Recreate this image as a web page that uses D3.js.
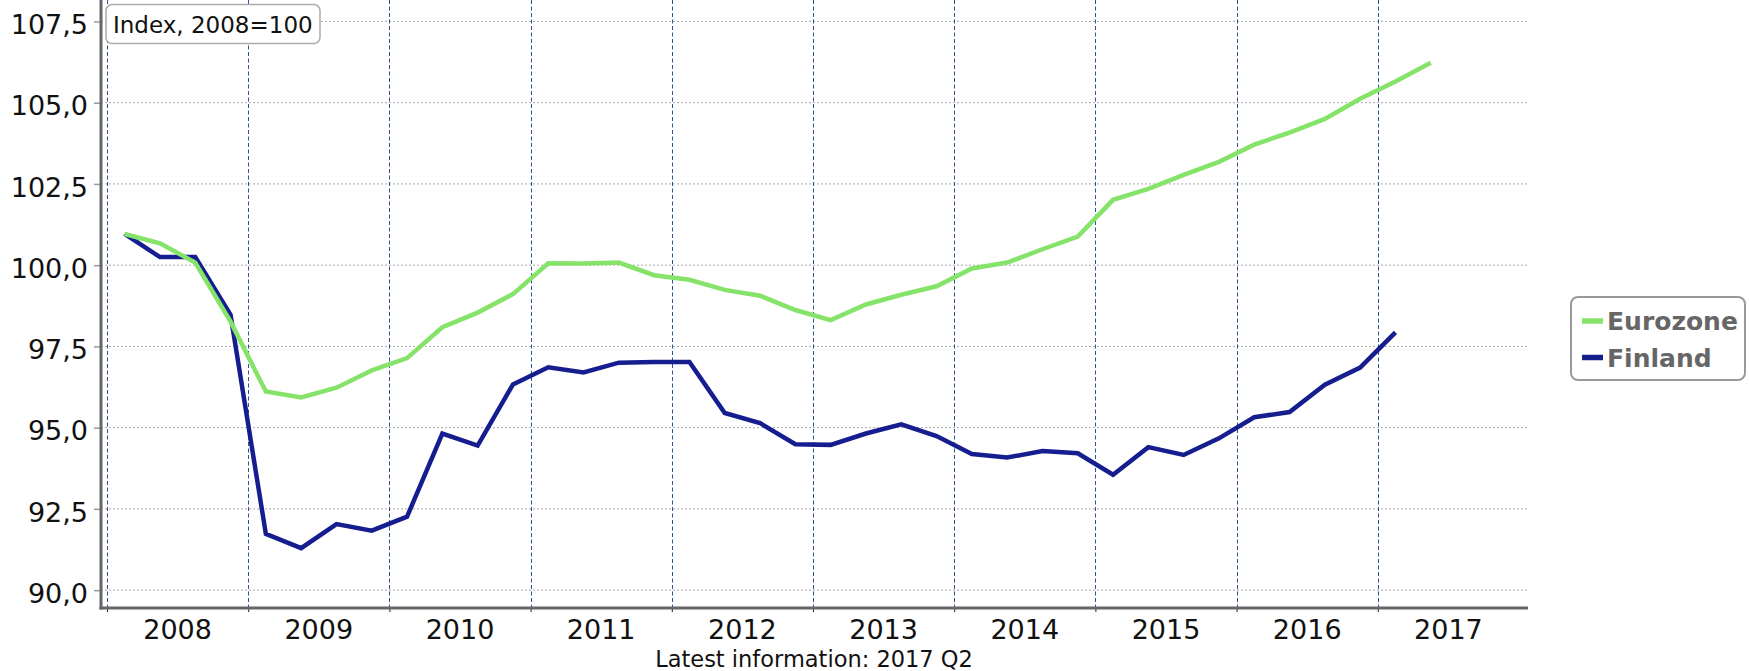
<!DOCTYPE html>
<html>
<head>
<meta charset="utf-8">
<script src="https://cdn.jsdelivr.net/npm/d3@7"></script>
<style>
  html, body { margin: 0; padding: 0; background: #fff; }
  svg { display: block; font-family: "DejaVu Sans", Verdana, sans-serif; }
</style>
</head>
<body>
<svg id="chart" width="1749" height="671"></svg>
<script>
// ---- data ----
const quarters = [
  "2008Q1","2008Q2","2008Q3","2008Q4",
  "2009Q1","2009Q2","2009Q3","2009Q4",
  "2010Q1","2010Q2","2010Q3","2010Q4",
  "2011Q1","2011Q2","2011Q3","2011Q4",
  "2012Q1","2012Q2","2012Q3","2012Q4",
  "2013Q1","2013Q2","2013Q3","2013Q4",
  "2014Q1","2014Q2","2014Q3","2014Q4",
  "2015Q1","2015Q2","2015Q3","2015Q4",
  "2016Q1","2016Q2","2016Q3","2016Q4",
  "2017Q1","2017Q2"
];
const eurozone = [
  100.96, 100.67, 100.08, 98.26,
  96.11, 95.93, 96.23, 96.76,
  97.14, 98.09, 98.54, 99.11,
  100.06, 100.05, 100.08, 99.69,
  99.55, 99.24, 99.06, 98.62,
  98.31, 98.79, 99.09, 99.35,
  99.90, 100.08, 100.49, 100.88,
  102.01, 102.35, 102.78, 103.18,
  103.71, 104.08, 104.50, 105.12,
  105.65, 106.23
];
const finland = [
  100.96, 100.25, 100.25, 98.47,
  91.73, 91.29, 92.03, 91.83,
  92.26, 94.82, 94.45, 96.33,
  96.86, 96.70, 97.00, 97.02,
  97.02, 95.45, 95.14, 94.49,
  94.47, 94.82, 95.10, 94.74,
  94.19, 94.08, 94.28, 94.21,
  93.55, 94.40, 94.16, 94.67,
  95.32, 95.48, 96.32, 96.85,
  97.93
];
const yearLabels = ["2008","2009","2010","2011","2012","2013","2014","2015","2016","2017"];
const yTicks = [90, 92.5, 95, 97.5, 100, 102.5, 105, 107.5];
const seriesNames = ["Eurozone", "Finland"];
const seriesColors = ["#86e36a", "#161e8f"];
const unitNote = "Index, 2008=100";
const footNote = "Latest information: 2017 Q2";

// ---- layout ----
const svg = d3.select("#chart");
const plot = { left: 101, right: 1528, top: 0, bottom: 608 };

const toT = q => +q.slice(0, 4) + (+q.slice(5) - 0.5) / 4;

const x = d3.scaleLinear()
  .domain([2007.9575, 2018.0637])
  .range([plot.left, plot.right]);
const y = d3.scaleLinear()
  .domain([89.45, 108.16])
  .range([plot.bottom, plot.top]);

const fmt = v => d3.format(".1f")(v).replace(".", ",");

// horizontal dotted gridlines
svg.append("g")
  .selectAll("line")
  .data(yTicks)
  .join("line")
  .attr("x1", plot.left).attr("x2", plot.right)
  .attr("y1", d => y(d)).attr("y2", d => y(d))
  .attr("stroke", "#a8a8a8")
  .attr("stroke-width", 1)
  .attr("stroke-dasharray", "2,2");

// vertical dashed year separators
const yearStarts = yearLabels.map(d => +d);
svg.append("g")
  .selectAll("line")
  .data(yearStarts)
  .join("line")
  .attr("x1", d => Math.round(x(d)) + 0.5).attr("x2", d => Math.round(x(d)) + 0.5)
  .attr("y1", plot.top).attr("y2", plot.bottom)
  .attr("stroke", "#2b5591")
  .attr("stroke-width", 1)
  .attr("stroke-dasharray", "4,2.5");

// y axis
const yAxis = d3.axisLeft(y).tickValues(yTicks).tickFormat(fmt).tickSize(7).tickPadding(6);
const gy = svg.append("g").attr("transform", `translate(${plot.left},0)`).call(yAxis);
gy.select(".domain").remove();
gy.selectAll(".tick line").attr("stroke", "#999").attr("stroke-width", 1.5);
gy.selectAll(".tick text")
  .attr("font-family", "DejaVu Sans, Verdana, sans-serif")
  .attr("font-size", 27)
  .attr("fill", "#111")
  .attr("dy", "0.45em");
svg.append("line")
  .attr("x1", plot.left).attr("x2", plot.left)
  .attr("y1", plot.top).attr("y2", plot.bottom + 1.5)
  .attr("stroke", "#666").attr("stroke-width", 3);

// x axis: ticks at year starts, labels at year middles
const gx = svg.append("g").attr("transform", `translate(0,${plot.bottom})`)
  .call(d3.axisBottom(x).tickValues(yearStarts).tickSize(4).tickFormat(""));
gx.select(".domain").remove();
gx.selectAll(".tick line").attr("stroke", "#222").attr("stroke-width", 1);
svg.append("line")
  .attr("x1", plot.left - 1.5).attr("x2", plot.right)
  .attr("y1", plot.bottom).attr("y2", plot.bottom)
  .attr("stroke", "#666").attr("stroke-width", 3);
svg.append("g")
  .selectAll("text")
  .data(yearLabels)
  .join("text")
  .attr("x", d => x(+d + 0.5))
  .attr("y", 639)
  .attr("text-anchor", "middle")
  .attr("font-size", 27)
  .attr("fill", "#111")
  .text(d => d);

// lines
const line = d3.line().x(d => x(d.t)).y(d => y(d.v));
const finData = finland.map((v, i) => ({ t: toT(quarters[i]), v }));
const ezData = eurozone.map((v, i) => ({ t: toT(quarters[i]), v }));
svg.append("path").datum(finData)
  .attr("d", line).attr("fill", "none")
  .attr("stroke", seriesColors[1]).attr("stroke-width", 4.5);
svg.append("path").datum(ezData)
  .attr("d", line).attr("fill", "none")
  .attr("stroke", seriesColors[0]).attr("stroke-width", 4.5);

// unit note box
const note = svg.append("g");
note.append("rect")
  .attr("x", 106).attr("y", 4.5).attr("width", 214).attr("height", 39)
  .attr("rx", 6).attr("ry", 6)
  .attr("fill", "#fff").attr("stroke", "#aaa").attr("stroke-width", 1.5);
note.append("text")
  .attr("x", 113).attr("y", 33)
  .attr("font-size", 23).attr("fill", "#111")
  .text(unitNote);

// footnote
svg.append("text")
  .attr("x", 814).attr("y", 667)
  .attr("text-anchor", "middle")
  .attr("font-size", 22.5).attr("fill", "#111")
  .text(footNote);

// legend
const lg = svg.append("g");
lg.append("rect")
  .attr("x", 1571).attr("y", 297).attr("width", 174).attr("height", 83)
  .attr("rx", 7).attr("ry", 7)
  .attr("fill", "#fff").attr("stroke", "#9a9a9a").attr("stroke-width", 2);
const items = lg.selectAll("g.item")
  .data(seriesNames)
  .join("g")
  .attr("class", "item")
  .attr("transform", (d, i) => `translate(0,${i * 36.5})`);
items.append("line")
  .attr("x1", 1582).attr("x2", 1603)
  .attr("y1", 321).attr("y2", 321)
  .attr("stroke", (d, i) => seriesColors[i])
  .attr("stroke-width", 5.5);
items.append("text")
  .attr("x", 1607).attr("y", 330)
  .attr("font-size", 25).attr("font-weight", "bold")
  .attr("fill", "#666")
  .text(d => d);
</script>
</body>
</html>
